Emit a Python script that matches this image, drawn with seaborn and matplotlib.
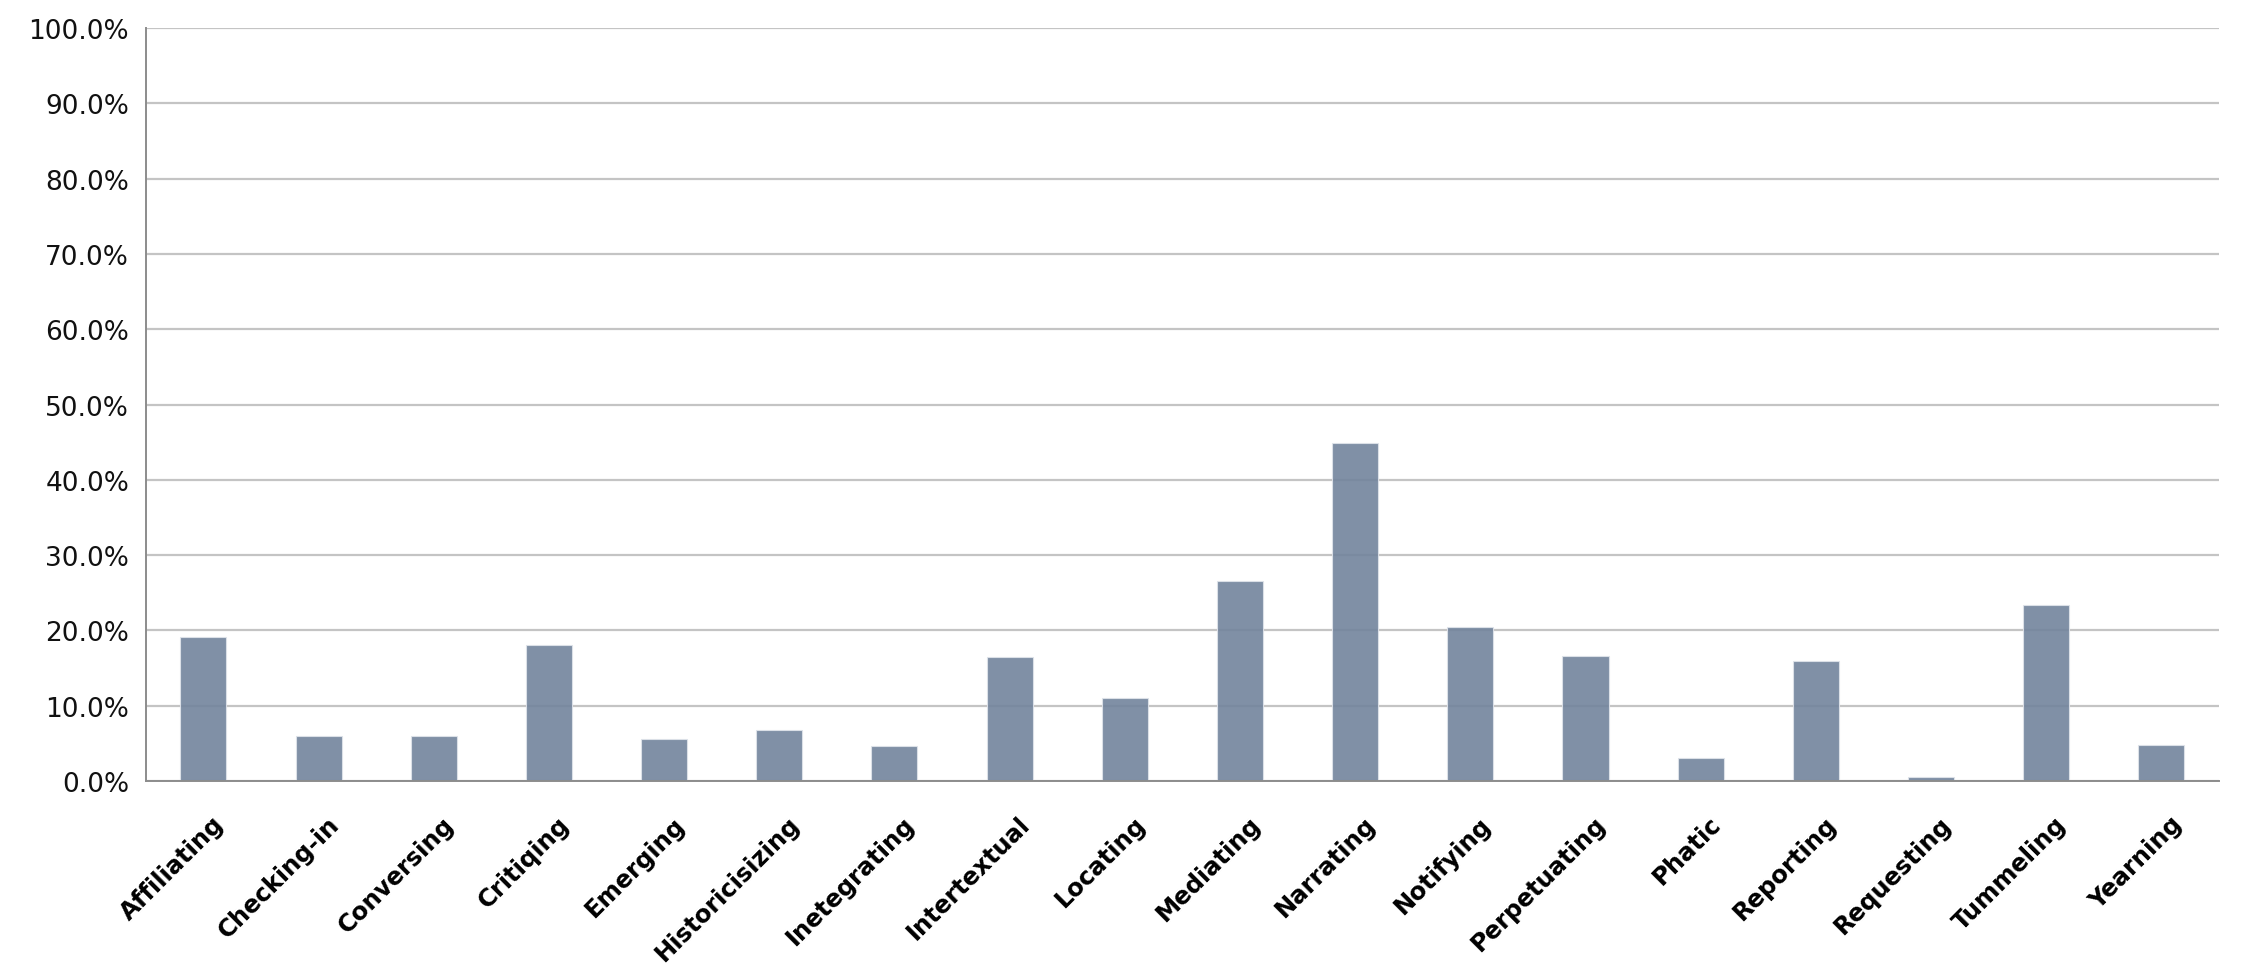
import numpy as np
import pandas as pd
import matplotlib
matplotlib.use("Agg")
import matplotlib.pyplot as plt
import matplotlib.transforms as mtransforms
import seaborn as sns
from matplotlib.ticker import PercentFormatter, FixedLocator

# Data (percentages)
categories = ["Affiliating", "Checking-in", "Conversing", "Critiqing", "Emerging",
              "Historicisizing", "Inetegrating", "Intertextual", "Locating", "Mediating",
              "Narrating", "Notifying", "Perpetuating", "Phatic", "Reporting",
              "Requesting", "Tummeling", "Yearning"]
shares = [19.1, 6.0, 6.0, 18.0, 5.6, 6.8, 4.7, 16.5, 11.0, 26.5,
          44.9, 20.4, 16.6, 3.0, 15.9, 0.5, 23.4, 4.8]
y_ticks = [0, 10, 20, 30, 40, 50, 60, 70, 80, 90, 100]

df = pd.DataFrame({"category": categories, "share": shares})

sns.set_style("white")
plt.rcParams["font.family"] = ["DejaVu Sans"]

fig = plt.figure(figsize=(22.43, 9.79), dpi=100)
ax = fig.add_axes([0.065, 0.2012, 0.9243, 0.7692])

# gridlines first, bars semi-transparent on top
ax.set_axisbelow(True)
ax.yaxis.grid(True, color="#c4c4c4", linewidth=1.6)

sns.barplot(data=df, x="category", y="share", ax=ax, width=0.40,
            color="#72849c", alpha=0.9, saturation=1,
            edgecolor="#dfe3ea", linewidth=0.8)

ax.set_xlim(-0.5, len(categories) - 0.5)
ax.set_ylim(0, 100)
ax.set_yticks(y_ticks)
ax.yaxis.set_major_formatter(PercentFormatter(decimals=1))
ax.set_xlabel("")
ax.set_ylabel("")

# x ticks: labels at centres, tick marks at category boundaries
ax.xaxis.set_minor_locator(FixedLocator(np.arange(-0.5, len(categories), 1.0)))
ax.tick_params(axis="x", which="major", length=0, pad=22)
ax.tick_params(axis="x", which="minor", length=8, width=1.4, color="#8c8c8c", direction="out")
ax.tick_params(axis="y", length=8, width=1.4, color="#8c8c8c", pad=4, labelsize=19)
for lbl in ax.get_yticklabels():
    lbl.set_color("#111111")
shift = mtransforms.ScaledTranslation(6 / 72, 0, fig.dpi_scale_trans)
for lbl in ax.get_xticklabels():
    lbl.set_rotation(45)
    lbl.set_ha("right")
    lbl.set_rotation_mode("anchor")
    lbl.set_fontweight("bold")
    lbl.set_fontsize(17.5)
    lbl.set_color("black")
    lbl.set_transform(lbl.get_transform() + shift)

for side in ["top", "right"]:
    ax.spines[side].set_visible(False)
for side in ["left", "bottom"]:
    ax.spines[side].set_color("#8c8c8c")
    ax.spines[side].set_linewidth(1.4)

fig.savefig("out.png", dpi=100)
